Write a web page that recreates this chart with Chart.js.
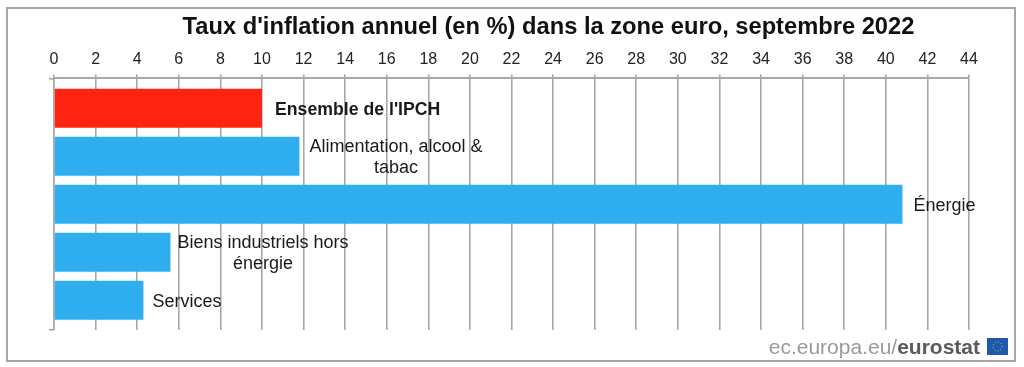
<!DOCTYPE html>
<html><head><meta charset="utf-8">
<style>html,body{margin:0;padding:0;background:#fff}#w{width:1024px;height:367px;position:relative}</style>
<script src="https://cdn.jsdelivr.net/npm/chart.js@4"></script></head>
<body><div id="w"><canvas id="c" width="1024" height="367"></canvas></div>
<script>
const categories = [["Ensemble de l'IPCH"], ["Alimentation, alcool &", "tabac"], ["Énergie"], ["Biens industriels hors", "énergie"], ["Services"]];
const values = [10.0, 11.8, 40.8, 5.6, 4.3];
const barColors = ["#ff2412", "#2eaeef", "#2eaeef", "#2eaeef", "#2eaeef"];
const chartTitle = "Taux d'inflation annuel (en %) dans la zone euro, septembre 2022";
const xTicks = [0,2,4,6,8,10,12,14,16,18,20,22,24,26,28,30,32,34,36,38,40,42,44];
const sourceParts = ["ec.europa.eu/", "eurostat"];

const GRID = "#a8a8a8", FONT = "'Liberation Sans', Arial, sans-serif";
const gaps = [13, 10, 11, 7, 9];

const deco = {
  id: "deco",
  afterLayout(chart) { chart.titleBlock.left += 64; chart.titleBlock.right += 64; },
  beforeDraw(chart) {
    const c = chart.ctx; c.save();
    c.strokeStyle = "#a6a6a6"; c.lineWidth = 2; c.strokeRect(7, 8, 1008, 353);
    c.restore();
  },
  afterDraw(chart) {
    const c = chart.ctx, x = chart.scales.x, y = chart.scales.y; c.save();
    c.fillStyle = "#1a1a1a"; c.textBaseline = "middle";
    categories.forEach((lines, i) => {
      c.font = (i === 0 ? "bold 17.7px " : "18px ") + FONT;
      const w = Math.max(...lines.map(l => c.measureText(l).width));
      const left = x.getPixelForValue(values[i]) + gaps[i];
      const cy = y.getPixelForValue(i) + 1.5;
      lines.forEach((l, k) => {
        c.textAlign = "center";
        c.fillText(l, left + w / 2, cy + (k - (lines.length - 1) / 2) * 20.5);
      });
    });
    // source mark
    c.textBaseline = "alphabetic"; c.textAlign = "left";
    c.font = "21px " + FONT; c.fillStyle = "#9a9a9a";
    const w0 = c.measureText(sourceParts[0]).width;
    c.font = "bold 21px " + FONT;
    const w1 = c.measureText(sourceParts[1]).width;
    const sx = 980 - w0 - w1;
    c.font = "21px " + FONT; c.fillText(sourceParts[0], sx, 354);
    c.font = "bold 21px " + FONT; c.fillStyle = "#5a5a5a"; c.fillText(sourceParts[1], sx + w0, 354);
    c.fillStyle = "#1d59ad"; c.fillRect(987, 338, 21, 17);
    c.strokeStyle = "#d9c34a"; c.lineWidth = 1; c.setLineDash([1, 2]);
    c.beginPath(); c.arc(997.5, 346.5, 4.5, 0, Math.PI * 2); c.stroke();
    c.restore();
  }
};

new Chart(document.getElementById("c"), {
  type: "bar",
  data: {
    datasets: [{
      data: values.map((v, i) => ({ x: v, y: i })),
      backgroundColor: barColors,
      borderWidth: 0,
      barPercentage: 1,
      categoryPercentage: 0.81
    }]
  },
  plugins: [deco],
  options: {
    indexAxis: "y",
    responsive: false,
    animation: false,
    layout: { padding: { left: 0, right: 55, top: 0, bottom: 37 } },
    plugins: {
      legend: { display: false },
      tooltip: { enabled: false },
      title: {
        display: true, text: chartTitle, color: "#111",
        font: { family: FONT, size: 23.7, weight: "bold" },
        padding: { top: 13, bottom: 0 }
      }
    },
    scales: {
      x: {
        type: "linear", position: "top", min: 0, max: 44,
        afterBuildTicks(s) { s.ticks = xTicks.map(v => ({ value: v })); },
        afterFit(s) { s.height = 37; },
        ticks: { color: "#222", font: { family: FONT, size: 16 }, padding: 5, maxRotation: 0, autoSkip: false },
        grid: { color: GRID, lineWidth: 1.6, tickLength: 4, tickColor: GRID, drawTicks: true },
        border: { display: true, color: GRID, width: 2 }
      },
      y: {
        type: "linear", reverse: true, min: -0.62, max: 4.62, offset: false,
        afterBuildTicks(s) { s.ticks = [{ value: -0.62 }, { value: 4.62 }]; },
        afterFit(s) { s.width = 54; },
        ticks: { display: false },
        grid: { offset: false, drawOnChartArea: false, drawTicks: true, tickLength: 5, tickColor: GRID, lineWidth: 1.6 },
        border: { display: true, color: GRID, width: 1.6 }
      }
    }
  }
});
</script></body></html>
